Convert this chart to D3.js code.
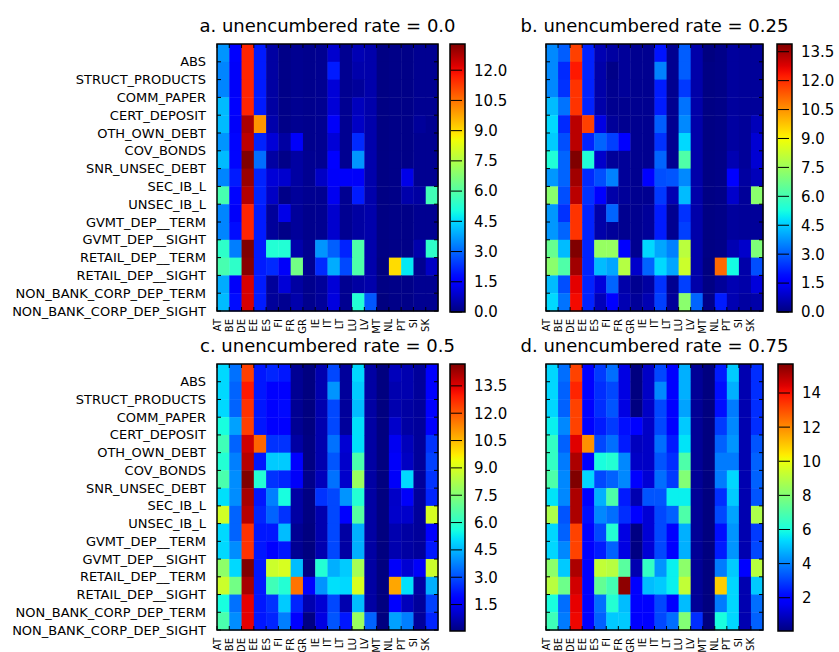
<!DOCTYPE html>
<html>
<head>
<meta charset="utf-8">
<script src="https://cdn.jsdelivr.net/npm/d3@7"></script>
<style>
  body { margin: 0; background: #fff; }
  svg { display: block; font-family: "DejaVu Sans", sans-serif; }
</style>
</head>
<body>
<div id="chart"></div>
<script>
const rows = ["ABS", "STRUCT_PRODUCTS", "COMM_PAPER", "CERT_DEPOSIT", "OTH_OWN_DEBT", "COV_BONDS",
  "SNR_UNSEC_DEBT", "SEC_IB_L", "UNSEC_IB_L", "GVMT_DEP__TERM", "GVMT_DEP__SIGHT",
  "RETAIL_DEP__TERM", "RETAIL_DEP__SIGHT", "NON_BANK_CORP_DEP_TERM", "NON_BANK_CORP_DEP_SIGHT"];
const cols = ["AT", "BE", "DE", "EE", "ES", "FI", "FR", "GR", "IE", "IT", "LT", "LU", "LV", "MT", "NL", "PT", "SI", "SK"];
const titles = ["a. unencumbered rate = 0.0", "b. unencumbered rate = 0.25",
  "c. unencumbered rate = 0.5", "d. unencumbered rate = 0.75"];

// one row per instrument, one value per country
const rateA = [
  [3.6, 1.5, 11.6, 2.0, 0.4, 0.1, 0.2, 0.15, 0.2, 0.9, 0.2, 0.6, 0.5, 0.05, 0.1, 0.1, 0.2, 0.2],
  [3.4, 1.4, 11.6, 2.0, 0.4, 0.1, 0.2, 0.15, 0.2, 2.0, 0.2, 0.5, 0.5, 0.05, 0.1, 0.1, 0.2, 0.2],
  [3.4, 1.4, 11.6, 2.0, 0.4, 0.1, 0.2, 0.15, 0.2, 1.0, 0.2, 0.3, 0.5, 0.05, 0.1, 0.1, 0.2, 0.2],
  [4.1, 1.6, 11.6, 2.0, 0.4, 0.1, 0.2, 0.15, 0.2, 1.0, 0.2, 0.7, 0.5, 0.05, 0.1, 0.1, 0.2, 0.2],
  [4.1, 1.4, 12.8, 10.0, 0.5, 0.1, 0.2, 0.15, 0.2, 1.4, 0.2, 0.8, 0.5, 0.05, 0.1, 0.1, 0.3, 0.2],
  [3.6, 1.7, 12.6, 2.1, 1.0, 0.4, 1.4, 0.15, 0.2, 1.0, 0.2, 2.2, 0.5, 0.05, 0.1, 0.1, 0.2, 0.2],
  [4.1, 1.7, 13.3, 3.1, 0.4, 0.1, 0.4, 0.2, 0.2, 1.5, 0.2, 3.6, 0.5, 0.05, 0.1, 0.1, 0.2, 0.2],
  [3.4, 2.0, 13.0, 2.1, 1.0, 0.9, 0.4, 0.2, 0.8, 1.4, 1.4, 1.4, 0.5, 0.05, 0.1, 1.2, 0.2, 0.2],
  [5.8, 1.7, 12.7, 2.1, 0.8, 0.1, 0.3, 0.2, 0.2, 1.3, 0.2, 2.0, 0.5, 0.05, 0.1, 0.5, 0.4, 5.7],
  [3.4, 1.4, 11.6, 2.0, 0.3, 1.2, 0.3, 0.15, 0.2, 0.9, 0.2, 0.4, 0.5, 0.05, 0.1, 0.1, 0.2, 0.2],
  [3.4, 1.8, 11.6, 2.0, 0.3, 0.1, 0.3, 0.15, 0.2, 0.9, 0.2, 0.4, 0.5, 0.05, 0.1, 0.1, 0.2, 0.2],
  [5.4, 3.3, 13.3, 2.0, 5.2, 5.2, 0.5, 0.2, 3.6, 2.9, 2.1, 5.9, 0.5, 0.05, 0.1, 0.1, 0.5, 5.4],
  [5.8, 5.4, 13.2, 2.0, 2.2, 1.4, 6.5, 0.2, 2.2, 3.9, 2.6, 5.9, 0.5, 0.0, 9.0, 4.7, 0.2, 0.8],
  [3.9, 1.4, 12.3, 2.0, 0.3, 1.0, 0.4, 0.15, 0.3, 1.0, 0.2, 0.4, 0.5, 0.05, 0.1, 0.1, 0.2, 0.2],
  [4.1, 1.8, 12.3, 2.0, 0.3, 0.2, 0.5, 0.15, 0.3, 1.1, 0.2, 5.2, 2.8, 0.0, 0.1, 0.1, 0.2, 0.2]
];
const rateB = [
  [3.6, 3.0, 11.7, 2.2, 0.6, 0.4, 0.3, 0.2, 0.2, 2.0, 0.2, 3.0, 0.5, 0.0, 0.1, 0.35, 0.3, 0.3],
  [3.6, 2.3, 12.3, 2.2, 0.5, 0.1, 0.3, 0.2, 0.2, 3.5, 0.2, 3.0, 0.5, 0.05, 0.1, 0.35, 0.3, 0.3],
  [3.6, 2.4, 11.9, 2.2, 0.5, 0.2, 0.3, 0.2, 0.2, 2.1, 0.2, 2.5, 0.5, 0.05, 0.1, 0.35, 0.3, 0.3],
  [4.3, 3.3, 11.9, 2.2, 0.5, 0.2, 0.2, 0.2, 0.2, 2.1, 0.2, 3.3, 0.5, 0.05, 0.1, 0.35, 0.3, 0.3],
  [4.7, 2.3, 13.2, 11.7, 1.2, 0.3, 0.2, 0.2, 0.2, 3.0, 0.2, 3.6, 0.5, 0.05, 0.1, 0.4, 0.3, 0.7],
  [4.5, 2.8, 13.2, 2.2, 3.1, 2.6, 1.6, 0.2, 0.2, 2.4, 0.2, 4.7, 0.5, 0.05, 0.1, 0.4, 0.3, 1.0],
  [5.4, 3.1, 13.9, 5.4, 0.9, 0.3, 0.3, 0.2, 0.2, 3.1, 0.2, 6.2, 0.5, 0.05, 0.1, 0.6, 0.3, 1.0],
  [3.8, 3.1, 13.5, 2.3, 2.8, 3.5, 0.3, 0.2, 1.6, 2.8, 2.9, 3.6, 0.5, 0.05, 0.1, 1.6, 0.4, 0.7],
  [7.2, 2.8, 13.2, 2.4, 1.6, 0.5, 0.3, 0.2, 0.2, 2.5, 0.6, 4.3, 0.5, 0.05, 0.1, 0.9, 0.3, 7.2],
  [3.8, 2.4, 11.9, 2.2, 0.5, 3.1, 0.2, 0.2, 0.3, 2.1, 0.2, 2.4, 0.5, 0.05, 0.1, 0.35, 0.3, 0.3],
  [3.8, 3.1, 11.9, 2.2, 0.5, 0.3, 0.2, 0.2, 0.3, 2.1, 0.2, 2.6, 0.5, 0.05, 0.1, 0.35, 0.3, 0.3],
  [6.6, 4.3, 13.9, 2.2, 7.4, 7.4, 1.6, 0.2, 4.7, 4.0, 3.5, 8.0, 0.5, 0.05, 0.1, 0.6, 0.9, 7.0],
  [7.2, 6.2, 13.5, 2.2, 4.3, 4.0, 7.9, 0.9, 3.1, 4.7, 4.0, 8.3, 0.5, 0.0, 11.1, 5.2, 0.5, 2.8],
  [4.3, 2.8, 12.7, 2.2, 1.1, 3.1, 0.5, 0.2, 0.4, 2.4, 0.2, 2.6, 0.5, 0.05, 0.3, 0.6, 0.5, 1.1],
  [4.7, 3.3, 12.5, 2.2, 0.7, 1.6, 0.6, 0.3, 0.6, 2.6, 0.3, 7.2, 3.1, 0.1, 2.1, 0.6, 0.4, 0.5]
];
const rateC = [
  [5.0, 3.5, 12.4, 2.2, 2.4, 2.2, 0.3, 0.05, 0.65, 2.9, 0.4, 5.0, 0.5, 0.05, 0.8, 0.65, 0.4, 1.7],
  [5.0, 3.3, 13.0, 2.2, 1.7, 1.8, 0.3, 0.05, 0.65, 4.0, 0.4, 4.8, 0.5, 0.05, 0.65, 0.65, 0.4, 1.7],
  [5.0, 3.3, 12.6, 2.2, 1.9, 2.0, 0.3, 0.05, 0.65, 2.9, 0.4, 4.6, 0.5, 0.05, 0.65, 0.5, 0.4, 1.7],
  [5.6, 4.2, 12.4, 2.2, 1.8, 1.8, 0.3, 0.05, 0.65, 2.9, 0.4, 5.1, 0.5, 0.05, 1.0, 0.5, 0.4, 1.7],
  [6.3, 3.3, 13.7, 11.8, 2.6, 2.6, 0.5, 0.1, 0.65, 3.5, 1.1, 5.1, 0.5, 0.05, 1.5, 0.8, 0.4, 2.6],
  [5.8, 3.7, 14.0, 2.2, 4.8, 4.8, 1.7, 0.1, 0.65, 3.1, 1.0, 6.5, 0.5, 0.05, 1.6, 0.9, 0.4, 2.8],
  [6.5, 3.9, 14.7, 5.8, 2.6, 2.4, 1.6, 0.2, 0.8, 3.5, 1.0, 7.9, 0.5, 0.05, 1.6, 5.0, 0.4, 2.6],
  [5.1, 3.9, 14.2, 2.2, 3.7, 5.6, 0.5, 0.1, 2.6, 2.9, 4.0, 5.8, 0.5, 0.05, 0.97, 1.6, 0.4, 2.4],
  [8.9, 3.3, 14.0, 2.4, 3.3, 2.6, 0.5, 0.1, 0.65, 2.9, 1.7, 6.7, 0.5, 0.05, 1.0, 1.0, 0.4, 9.0],
  [5.0, 3.3, 12.6, 2.2, 2.2, 4.6, 0.3, 0.05, 0.65, 2.9, 0.5, 4.4, 0.5, 0.05, 0.65, 0.5, 0.4, 1.7],
  [5.0, 3.9, 12.6, 2.2, 1.7, 2.2, 0.3, 0.05, 0.65, 2.9, 0.5, 4.4, 0.5, 0.05, 0.65, 0.5, 0.4, 2.2],
  [7.7, 5.0, 14.7, 2.2, 8.8, 9.0, 4.6, 0.1, 5.8, 4.4, 4.8, 8.1, 0.5, 0.05, 1.6, 1.1, 1.6, 8.8],
  [8.8, 7.2, 14.2, 2.2, 6.3, 5.8, 11.6, 1.7, 4.0, 5.1, 5.0, 9.0, 0.5, 0.05, 10.8, 5.1, 0.5, 4.4],
  [5.6, 3.5, 13.4, 2.2, 2.6, 4.8, 2.4, 0.65, 1.1, 2.9, 0.65, 4.6, 0.5, 0.05, 1.7, 0.8, 0.4, 2.8],
  [6.5, 3.9, 13.4, 2.2, 2.4, 3.7, 1.7, 0.1, 1.3, 3.1, 2.2, 7.9, 3.3, 0.05, 4.2, 3.7, 0.4, 2.4]
];
const rateD = [
  [5.3, 3.7, 13.2, 2.0, 2.9, 3.7, 1.4, 0.05, 1.0, 3.1, 2.0, 4.7, 0.35, 0.05, 2.4, 5.1, 0.7, 2.7],
  [5.3, 3.5, 13.7, 2.0, 2.7, 3.1, 1.4, 0.05, 1.0, 4.1, 1.8, 4.7, 0.35, 0.05, 2.2, 4.7, 0.7, 2.7],
  [5.3, 3.5, 13.2, 2.0, 2.7, 3.3, 1.4, 0.05, 1.0, 3.1, 1.8, 4.5, 0.35, 0.05, 2.2, 3.9, 0.7, 2.7],
  [5.7, 4.1, 13.2, 2.0, 2.4, 2.9, 2.2, 1.8, 1.0, 3.1, 1.8, 5.1, 0.35, 0.05, 2.9, 4.1, 0.7, 2.7],
  [6.5, 3.5, 14.4, 11.9, 3.1, 3.7, 2.4, 0.9, 1.0, 3.7, 2.4, 5.5, 0.35, 0.05, 3.5, 4.3, 0.7, 3.3],
  [6.5, 3.9, 15.1, 2.0, 6.0, 6.2, 4.1, 1.0, 1.0, 3.3, 2.7, 7.0, 0.35, 0.05, 3.9, 3.9, 0.7, 3.5],
  [7.0, 4.1, 15.7, 5.3, 3.1, 3.5, 4.1, 1.8, 1.2, 3.7, 2.9, 8.0, 0.35, 0.05, 3.9, 5.3, 0.7, 3.5],
  [5.5, 4.1, 15.1, 2.0, 4.7, 7.0, 2.4, 0.7, 3.3, 3.3, 5.7, 5.7, 0.35, 0.05, 2.7, 5.1, 0.7, 3.3],
  [8.8, 3.3, 15.1, 2.2, 4.1, 3.7, 2.7, 1.8, 1.2, 3.1, 3.5, 7.0, 0.35, 0.05, 3.1, 4.5, 0.7, 8.8],
  [5.3, 3.5, 13.2, 2.0, 3.1, 6.2, 1.4, 0.1, 1.2, 3.1, 1.8, 4.7, 0.35, 0.05, 2.2, 4.3, 0.7, 2.9],
  [5.3, 4.1, 13.2, 2.0, 2.4, 3.5, 1.4, 0.1, 1.2, 3.1, 1.8, 4.7, 0.35, 0.05, 2.4, 4.3, 0.7, 3.1],
  [8.2, 5.1, 15.1, 2.0, 9.2, 9.0, 7.2, 0.7, 6.5, 4.3, 5.7, 8.2, 0.35, 0.05, 3.9, 5.1, 1.9, 9.0],
  [9.0, 7.6, 14.6, 2.0, 7.4, 6.8, 15.5, 1.8, 4.9, 5.1, 5.7, 9.2, 0.35, 0.05, 10.9, 5.3, 0.7, 5.1],
  [6.0, 3.7, 14.3, 2.0, 3.7, 6.2, 4.9, 1.8, 1.8, 3.1, 2.0, 4.9, 0.35, 0.05, 3.9, 5.3, 0.7, 3.7],
  [6.7, 3.9, 14.2, 2.0, 3.5, 5.1, 5.1, 1.8, 2.0, 3.1, 3.7, 8.0, 2.7, 0.05, 6.0, 5.3, 0.7, 3.5]
];
const cbarSteps = [1.5, 1.5, 1.5, 2];
const cbarFormats = [".1f", ".1f", ".1f", "d"];

const width = 839, height = 652;

// panel boxes: heatmap area and colorbar left edge
const panels = [
  { x: 217, y: 44, w: 221, h: 267, cb: 450, data: rateA },
  { x: 546, y: 44, w: 217, h: 267, cb: 777, data: rateB },
  { x: 217, y: 364, w: 221, h: 266, cb: 450, data: rateC },
  { x: 546, y: 364, w: 217, h: 266, cb: 778, data: rateD }
];

// matplotlib "jet"
const jetR = d3.scaleLinear().domain([0, 0.35, 0.66, 0.89, 1]).range([0, 0, 1, 1, 0.5]).clamp(true);
const jetG = d3.scaleLinear().domain([0, 0.125, 0.375, 0.64, 0.91, 1]).range([0, 0, 1, 1, 0, 0]).clamp(true);
const jetB = d3.scaleLinear().domain([0, 0.11, 0.34, 0.65, 1]).range([0.5, 1, 1, 0, 0]).clamp(true);
const jet = t => d3.rgb(255 * jetR(t), 255 * jetG(t), 255 * jetB(t)).toString();

const svg = d3.select("#chart").append("svg")
  .attr("width", width)
  .attr("height", height);
const defs = svg.append("defs");

panels.forEach((p, k) => {
  const g = svg.append("g");
  const ext = d3.extent(p.data.flat());
  const color = d3.scaleSequential(jet).domain(ext);

  const x = d3.scaleBand().domain(cols).range([p.x, p.x + p.w]);
  const y = d3.scaleBand().domain(rows).range([p.y, p.y + p.h]);

  const cells = [];
  p.data.forEach((r, i) => r.forEach((v, j) => cells.push({ row: rows[i], col: cols[j], v })));

  g.selectAll("rect.cell")
    .data(cells)
    .enter()
    .append("rect")
    .attr("class", "cell")
    .attr("x", d => x(d.col))
    .attr("y", d => y(d.row))
    .attr("width", x.bandwidth() + 0.4)
    .attr("height", y.bandwidth() + 0.4)
    .attr("fill", d => color(d.v));

  // ticks sit on cell boundaries (as in the original figure)
  const yt = rows.map(r => y(r) + y.bandwidth());
  const xt = cols.map(c => x(c));
  const tk = g.append("g").attr("stroke", "#000").attr("stroke-width", 1);
  yt.forEach(v => {
    tk.append("line").attr("x1", p.x).attr("x2", p.x + 4).attr("y1", v).attr("y2", v);
    tk.append("line").attr("x1", p.x + p.w - 4).attr("x2", p.x + p.w).attr("y1", v).attr("y2", v);
  });
  xt.forEach(v => {
    tk.append("line").attr("x1", v).attr("x2", v).attr("y1", p.y).attr("y2", p.y + 4);
    tk.append("line").attr("x1", v).attr("x2", v).attr("y1", p.y + p.h - 4).attr("y2", p.y + p.h);
  });

  g.append("rect")
    .attr("x", p.x).attr("y", p.y).attr("width", p.w).attr("height", p.h)
    .attr("fill", "none").attr("stroke", "#000").attr("stroke-width", 1.5);

  if (k % 2 === 0) {
    g.selectAll("text.row")
      .data(rows)
      .enter()
      .append("text")
      .attr("class", "row")
      .attr("x", p.x - 11)
      .attr("y", (d, i) => yt[i])
      .attr("dy", "0.35em")
      .attr("text-anchor", "end")
      .attr("font-size", 13)
      .text(d => d);
  }

  g.selectAll("text.col")
    .data(cols)
    .enter()
    .append("text")
    .attr("class", "col")
    .attr("transform", (d, i) => `translate(${xt[i]},${p.y + p.h + 8}) rotate(-90)`)
    .attr("dy", "0.35em")
    .attr("text-anchor", "end")
    .attr("font-size", 10)
    .text(d => d);

  g.append("text")
    .attr("x", p.x + p.w / 2)
    .attr("y", p.y - 12)
    .attr("text-anchor", "middle")
    .attr("font-size", 18)
    .text(titles[k]);

  // colorbar
  const cbH = p.h + 1, cbW = 15;
  const gid = "cb" + k;
  const grad = defs.append("linearGradient").attr("id", gid)
    .attr("x1", 0).attr("x2", 0).attr("y1", 1).attr("y2", 0);
  d3.range(0, 1.0001, 0.02).forEach(t => {
    grad.append("stop").attr("offset", t).attr("stop-color", jet(t));
  });
  const cy = d3.scaleLinear().domain(ext).range([p.y + cbH, p.y]);
  g.append("rect")
    .attr("x", p.cb).attr("y", p.y).attr("width", cbW).attr("height", cbH)
    .attr("fill", `url(#${gid})`)
    .attr("stroke", "#000").attr("stroke-width", 1.5);

  const step = cbarSteps[k];
  const tv = d3.range(Math.ceil(ext[0] / step - 1e-9) * step, ext[1] + 1e-9, step);
  const fmt = d3.format(cbarFormats[k]);
  tv.forEach(v => {
    g.append("line")
      .attr("x1", p.cb + 1).attr("x2", p.cb + cbW - 3)
      .attr("y1", cy(v)).attr("y2", cy(v))
      .attr("stroke", "#000").attr("stroke-width", 1);
    g.append("text")
      .attr("x", p.cb + cbW + 9)
      .attr("y", cy(v))
      .attr("dy", "0.36em")
      .attr("font-size", 15)
      .text(fmt(v));
  });
});
</script>
</body>
</html>
